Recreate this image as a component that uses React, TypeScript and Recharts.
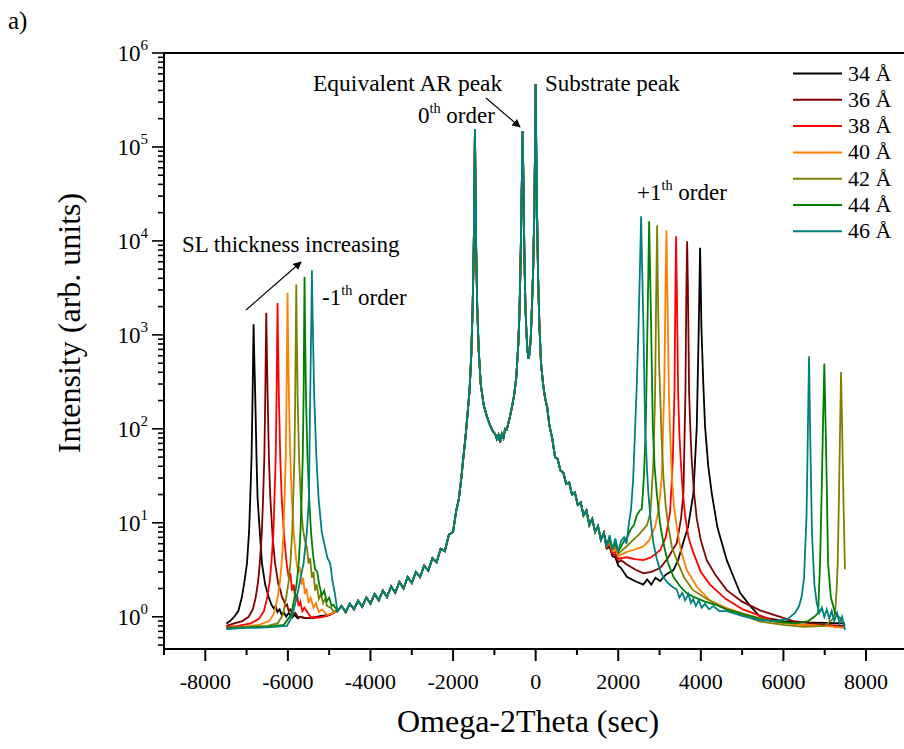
import { LineChart, Line, XAxis, YAxis } from 'recharts';

type Pt = [number, number];

const FONT = 'Liberation Serif, Tinos, DejaVu Serif, serif';

// x ticks (sec) and y decades
const xMajorTicks = [-8000, -6000, -4000, -2000, 0, 2000, 4000, 6000, 8000];
const xMinorTicks = [-9000, -7000, -5000, -3000, -1000, 1000, 3000, 5000, 7000];
const yDecades = [1, 10, 100, 1000, 10000, 100000, 1000000];
const yMinorSteps = [2, 3, 4, 5, 6, 7, 8, 9];

const seriesNames = ['34 Å', '36 Å', '38 Å', '40 Å', '42 Å', '44 Å', '46 Å'];
const seriesColors = ['#000000', '#800000', '#ff0000', '#ff8000', '#808000', '#008000', '#008080'];

// shared part: the 0th order / AR peak / substrate region, same for every sample
const centre: Pt[] = [
  [-4800, 1.15], [-4700, 1.3], [-4600, 1.12], [-4500, 1.38], [-4400, 1.2], [-4300, 1.48], [-4200, 1.28],
  [-4100, 1.6], [-4000, 1.38], [-3900, 1.75], [-3800, 1.5], [-3700, 1.9], [-3600, 1.62], [-3500, 2.1],
  [-3400, 1.8], [-3300, 2.35], [-3200, 2.0], [-3100, 2.65], [-3000, 2.3], [-2900, 3.0], [-2800, 2.65],
  [-2700, 3.5], [-2600, 3.1], [-2500, 4.2], [-2400, 3.8], [-2300, 5.3], [-2200, 5.0], [-2100, 7.5],
  [-2000, 8.0], [-1930, 13], [-1860, 18], [-1800, 30], [-1750, 50], [-1700, 80], [-1640, 160],
  [-1600, 260], [-1560, 600], [-1525, 2000], [-1500, 8000], [-1485, 30000], [-1470, 155000],
  [-1455, 30000], [-1440, 8000], [-1415, 2000], [-1380, 700], [-1330, 300], [-1260, 180], [-1180, 135],
  [-1100, 108], [-1040, 95], [-980, 88], [-940, 78], [-900, 86], [-860, 72], [-820, 88], [-780, 80],
  [-740, 100], [-700, 98], [-640, 125], [-580, 165], [-520, 230], [-470, 350], [-420, 800], [-390, 1800],
  [-360, 8000], [-335, 40000], [-315, 148000], [-295, 40000], [-275, 8000], [-250, 2200], [-225, 1100],
  [-200, 700], [-175, 560], [-150, 620], [-120, 900], [-90, 2000], [-60, 5000], [-35, 18000],
  [-15, 90000], [0, 465000], [15, 90000], [35, 18000], [60, 4000], [90, 1300], [130, 500], [180, 300],
  [230, 210], [280, 170], [330, 110], [400, 80], [470, 50], [530, 48], [600, 36], [670, 34], [740, 26],
  [810, 27], [880, 20], [950, 21], [1020, 15.5], [1090, 16.5], [1160, 12], [1230, 13.5], [1300, 9.5],
  [1370, 11], [1440, 8], [1510, 9.2], [1580, 6.6], [1650, 7.8],
];

// -1th order side
const left34: Pt[] = [
  [-7490, 0.85], [-7400, 0.9], [-7300, 1.0], [-7200, 1.15], [-7112, 1.63], [-7050, 2.4], [-6991, 3.7],
  [-6940, 8], [-6911, 18.5], [-6880, 50], [-6855, 219], [-6840, 700], [-6830, 1300], [-6818, 700],
  [-6790, 219], [-6760, 50], [-6734, 18.5], [-6680, 8], [-6628, 3.7], [-6550, 2.2], [-6468, 1.63],
  [-6400, 1.35], [-6340, 1.22], [-6300, 1.3], [-6250, 1.12], [-6200, 1.2], [-6150, 1.05], [-6100, 1.12],
  [-6040, 1.0], [-5980, 1.1], [-5900, 0.98], [-5840, 1.05], [-5760, 0.96], [-5700, 1.0], [-5600, 0.97],
  [-5400, 0.98], [-5200, 1.02], [-5000, 1.05], [-4900, 1.1],
];
const left36: Pt[] = [
  [-7490, 0.8], [-7300, 0.85], [-7100, 0.9], [-6950, 1.0], [-6850, 1.2], [-6780, 1.6], [-6720, 2.4],
  [-6680, 3.7], [-6630, 8], [-6600, 18.5], [-6570, 50], [-6548, 219], [-6533, 800], [-6523, 1715],
  [-6512, 800], [-6490, 219], [-6460, 50], [-6425, 18.5], [-6370, 7], [-6310, 3.7], [-6230, 2.2],
  [-6180, 1.9], [-6140, 1.6], [-6100, 1.5], [-6060, 1.3], [-6020, 1.35], [-5980, 1.15], [-5940, 1.2],
  [-5880, 1.05], [-5820, 1.1], [-5760, 1.0], [-5600, 0.98], [-5400, 0.97], [-5200, 1.0], [-5000, 1.04],
  [-4900, 1.1],
];
const left38: Pt[] = [
  [-7490, 0.78], [-7200, 0.8], [-6900, 0.85], [-6700, 0.95], [-6580, 1.15], [-6500, 1.6], [-6440, 2.4],
  [-6400, 3.7], [-6350, 8], [-6325, 18.5], [-6295, 50], [-6274, 219], [-6260, 900], [-6250, 2190],
  [-6239, 900], [-6218, 219], [-6185, 50], [-6150, 18.5], [-6090, 7], [-6030, 3.7], [-5980, 2.6],
  [-5940, 2.9], [-5900, 1.9], [-5860, 2.2], [-5820, 1.55], [-5780, 1.75], [-5740, 1.3], [-5700, 1.45],
  [-5650, 1.15], [-5600, 1.25], [-5450, 1.0], [-5250, 0.98], [-5050, 1.02], [-4900, 1.1],
];
const left40: Pt[] = [
  [-7490, 0.76], [-7100, 0.78], [-6700, 0.82], [-6450, 0.9], [-6330, 1.1], [-6250, 1.6], [-6190, 2.4],
  [-6150, 3.7], [-6105, 8], [-6080, 18.5], [-6052, 50], [-6032, 219], [-6018, 1000], [-6008, 2800],
  [-5997, 1000], [-5975, 219], [-5942, 50], [-5905, 18.5], [-5850, 7], [-5790, 3.7], [-5750, 3.0],
  [-5710, 3.4], [-5670, 2.2], [-5630, 2.6], [-5590, 1.75], [-5550, 2.0], [-5500, 1.4], [-5450, 1.6],
  [-5380, 1.25], [-5320, 1.4], [-5250, 1.12], [-5180, 1.2], [-5050, 1.05], [-4900, 1.1],
];
const left42: Pt[] = [
  [-7490, 0.76], [-7000, 0.78], [-6500, 0.8], [-6250, 0.85], [-6120, 1.05], [-6040, 1.6], [-5980, 2.4],
  [-5940, 3.7], [-5895, 8], [-5870, 18.5], [-5842, 50], [-5822, 219], [-5807, 1200], [-5797, 3435],
  [-5786, 1200], [-5764, 219], [-5730, 50], [-5690, 18.5], [-5640, 9], [-5590, 6.5], [-5540, 5.5],
  [-5500, 3.7], [-5460, 4.2], [-5420, 2.6], [-5380, 3.0], [-5340, 1.9], [-5300, 2.2], [-5250, 1.55],
  [-5200, 1.75], [-5150, 1.4], [-5100, 1.55], [-5050, 1.3], [-4960, 1.25], [-4900, 1.15],
];
const left44: Pt[] = [
  [-7490, 0.75], [-7000, 0.77], [-6500, 0.78], [-6100, 0.82], [-5920, 1.05], [-5840, 1.6], [-5780, 2.4],
  [-5740, 3.7], [-5695, 8], [-5668, 18.5], [-5640, 50], [-5620, 219], [-5606, 1400], [-5597, 4140],
  [-5586, 1400], [-5562, 219], [-5525, 50], [-5485, 18.5], [-5440, 8], [-5390, 4.5], [-5340, 3.2],
  [-5290, 3.0], [-5240, 2.2], [-5180, 1.7], [-5120, 1.9], [-5060, 1.45], [-5000, 1.6], [-4940, 1.3],
  [-4900, 1.35],
];
const left46: Pt[] = [
  [-7490, 0.74], [-7000, 0.76], [-6500, 0.77], [-6023, 0.8], [-5900, 1.0], [-5781, 1.63], [-5700, 2.5],
  [-5620, 3.7], [-5540, 8], [-5490, 18.5], [-5460, 219], [-5432, 1500], [-5418, 4875], [-5400, 1500],
  [-5362, 219], [-5310, 50], [-5258, 18.5], [-5180, 8], [-5100, 5.5], [-5040, 4.2], [-4975, 3.7],
  [-4920, 2.4], [-4860, 1.75],
];

// +1th (and +2th) order side
const right34: Pt[] = [
  [1720, 5.3], [1790, 5.6], [1860, 4.4], [1930, 4.3], [2000, 3.5],
  [2070, 3.3], [2207, 2.66], [2400, 2.4], [2605, 2.2], [2700, 2.5], [2800, 2.2], [2900, 2.6], [3014, 2.4],
  [3150, 2.8], [3336, 3.14], [3450, 4.0], [3571, 6.1], [3692, 9.1], [3820, 20.6], [3902, 105],
  [3950, 1216], [3970, 4000], [3982, 8440], [3995, 4000], [4014, 1216], [4060, 300], [4103, 105],
  [4180, 40], [4265, 20.6], [4400, 9], [4628, 4.0], [4800, 2.6], [4950, 1.8], [5200, 1.3], [5434, 1.0],
  [6000, 0.9], [6500, 0.87], [7000, 0.86], [7490, 0.85],
];
const right36: Pt[] = [
  [1720, 5.4], [1790, 5.8], [1860, 4.6], [1930, 4.6], [2000, 3.8],
  [2070, 4.0], [2207, 3.6], [2400, 3.2], [2610, 2.9], [2800, 3.0], [3014, 3.3], [3200, 4.2], [3418, 6.1],
  [3520, 11], [3579, 20.6], [3627, 240], [3650, 3000], [3668, 9930], [3688, 3000], [3716, 240],
  [3750, 90], [3780, 46], [3840, 20], [3902, 11], [4000, 6.5], [4143, 4.0], [4350, 2.8], [4628, 1.92],
  [5000, 1.45], [5434, 1.17], [6240, 0.9], [7000, 0.82], [7490, 0.8],
];
const right38: Pt[] = [
  [1720, 5.5], [1790, 6.0], [1860, 4.8], [1930, 4.9], [2000, 4.1],
  [2070, 4.2], [2207, 4.3], [2400, 4.1], [2610, 4.0], [2800, 4.3], [3014, 5.1], [3150, 7.0], [3256, 13],
  [3321, 46], [3361, 240], [3385, 3000], [3401, 11200], [3420, 3000], [3450, 240], [3480, 90],
  [3514, 46], [3560, 22], [3619, 12], [3700, 7], [3812, 4.9], [4000, 3.0], [4224, 2.2], [4600, 1.55],
  [5031, 1.19], [5838, 0.89], [6500, 0.82], [7000, 0.8], [7490, 0.78],
];
const right40: Pt[] = [
  [1720, 5.6], [1790, 6.3], [1860, 5.0], [1930, 5.3], [2000, 4.4],
  [2070, 4.6], [2207, 4.9], [2400, 5.2], [2610, 5.6], [2750, 6.5], [2893, 9.1], [2980, 14], [3055, 31],
  [3112, 240], [3145, 3000], [3167, 13000], [3190, 3000], [3227, 240], [3260, 80], [3297, 31],
  [3350, 15], [3418, 9.1], [3520, 5], [3660, 3.14], [3900, 2.1], [4224, 1.49], [4600, 1.25],
  [5031, 1.08], [5838, 0.87], [6500, 0.82], [7000, 0.8], [7490, 0.76],
];
const right42: Pt[] = [
  [1720, 5.7], [1790, 6.6], [1860, 5.2], [1930, 5.7], [2000, 4.7],
  [2070, 5.0], [2200, 5.6], [2350, 6.5], [2500, 7.5], [2610, 8.5], [2700, 9.5], [2780, 13], [2830, 30],
  [2852, 46], [2893, 240], [2920, 3000], [2941, 14700], [2960, 3000], [2990, 500], [3014, 240],
  [3050, 80], [3094, 31], [3150, 15], [3215, 9.1], [3300, 5.5], [3418, 4.0], [3600, 2.6], [3812, 1.92],
  [4200, 1.5], [4628, 1.19], [5000, 1.05], [5434, 0.89], [6000, 0.82], [6500, 0.78], [7000, 0.8],
  [7200, 0.95], [7250, 1.08], [7290, 2.0], [7315, 3.7], [7350, 25], [7375, 120], [7395, 403],
  [7415, 150], [7436, 46], [7465, 10], [7490, 3.2],
];
const right44: Pt[] = [
  [1720, 5.8], [1790, 6.9], [1860, 5.4], [1930, 6.1], [2000, 5.0],
  [2070, 5.6], [2150, 6.5], [2230, 7.2], [2300, 8.5], [2380, 9.5], [2450, 12], [2520, 13.5], [2570, 14],
  [2620, 30], [2667, 105], [2707, 1216], [2730, 5000], [2748, 16200], [2770, 5000], [2797, 1216],
  [2837, 105], [2880, 40], [2934, 20.6], [3010, 10], [3094, 6.1], [3200, 3.8], [3336, 2.66],
  [3500, 2.1], [3650, 1.8], [3812, 1.64], [4100, 1.45], [4400, 1.32], [4628, 1.2], [5000, 1.08],
  [5434, 0.95], [5900, 0.88], [6300, 0.85], [6600, 0.9], [6750, 1.0], [6840, 1.1], [6887, 3.7],
  [6930, 25], [6960, 120], [6991, 497], [7020, 120], [7050, 25], [7081, 3.7], [7150, 1.6], [7250, 1.1],
  [7330, 1.0], [7400, 0.95], [7490, 0.8],
];
const right46: Pt[] = [
  [1720, 5.6], [1790, 7.4], [1860, 5.2], [1930, 6.8], [2000, 5.0],
  [2070, 6.4], [2140, 7.0], [2200, 6.0], [2260, 10], [2310, 14], [2360, 28], [2410, 105], [2450, 300],
  [2490, 1216], [2525, 5000], [2554, 18300], [2580, 5000], [2610, 1216], [2651, 105], [2700, 35],
  [2731, 20], [2790, 10], [2852, 6.1], [2930, 4.2], [3014, 3.1], [3100, 2.6], [3200, 2.3], [3300, 2.1],
  [3418, 1.95], [3480, 1.6], [3550, 1.8], [3620, 1.5], [3700, 1.75], [3760, 1.4], [3812, 1.55],
  [3880, 1.3], [3950, 1.5], [4020, 1.25], [4100, 1.38], [4200, 1.2], [4300, 1.3], [4450, 1.15],
  [4628, 1.15], [5000, 1.02], [5434, 0.92], [5800, 0.9], [6100, 0.95], [6282, 1.1], [6380, 1.3],
  [6443, 1.65], [6500, 2.6], [6560, 12], [6590, 80], [6620, 593], [6650, 80], [6690, 8], [6750, 2.2],
  [6807, 1.4], [6870, 1.1], [6930, 1.25], [6990, 1.0], [7050, 1.2], [7110, 0.95], [7170, 1.15],
  [7230, 0.9], [7300, 1.1], [7360, 0.85], [7420, 1.0], [7490, 0.72],
];

const lefts = [left34, left36, left38, left40, left42, left44, left46];
const rights = [right34, right36, right38, right40, right42, right44, right46];

const series = seriesNames.map((name, i) => ({
  name,
  color: seriesColors[i],
  data: [...lefts[i], ...centre, ...rights[i]].map(([x, y]) => ({ x, y })),
}));

const yTicks = [
  ...[5, 6, 7, 8, 9].map(m => m / 10),
  ...yDecades.flatMap(d => (d < 1000000 ? [d, ...yMinorSteps.map(m => m * d)] : [d])),
];
const xTicks = [...xMinorTicks, ...xMajorTicks].sort((a, b) => a - b);

const txt = { fontFamily: FONT, fill: '#000' };

const XTick = (props: any) => {
  const { x, y, payload } = props;
  const major = xMajorTicks.includes(payload.value);
  return (
    <g>
      <line x1={x} x2={x} y1={y} y2={y + (major ? 12 : 6)} stroke="#000" strokeWidth={2} />
      {major && (
        <text x={x} y={y + 40} textAnchor="middle" fontSize={22} style={txt}>
          {payload.value}
        </text>
      )}
    </g>
  );
};

const YTick = (props: any) => {
  const { x, y, payload } = props;
  const major = yDecades.includes(payload.value);
  return (
    <g>
      <line x1={x - (major ? 12 : 6)} x2={x} y1={y} y2={y} stroke="#000" strokeWidth={1.6} />
      {major && (
        <text x={x - 16} y={y + 8} textAnchor="end" fontSize={23} style={txt}>
          <tspan>10</tspan>
          <tspan fontSize={15} dy={-11}>{Math.round(Math.log10(payload.value))}</tspan>
        </text>
      )}
    </g>
  );
};

const Sup = ({ x, y, base, sup, rest, size = 23 }: any) => (
  <text x={x} y={y} fontSize={size} style={txt}>
    <tspan>{base}</tspan>
    <tspan fontSize={size * 0.62} dy={-10}>{sup}</tspan>
    <tspan dy={10}>{rest}</tspan>
  </text>
);

export default function App() {
  return (
    <div style={{ position: 'absolute', left: 0, top: 0, width: 904, height: 749, background: '#fff', fontFamily: FONT }}>
      <LineChart width={904} height={749} margin={{ top: 53, right: 0, bottom: 0, left: 0 }}>
        <XAxis
          dataKey="x"
          type="number"
          domain={[-9000, 8920]}
          allowDataOverflow
          ticks={xTicks}
          interval={0}
          tick={<XTick />}
          tickLine={false}
          tickSize={0}
          tickMargin={0}
          height={100}
          axisLine={{ stroke: '#000', strokeWidth: 2 }}
        />
        <YAxis
          dataKey="y"
          type="number"
          scale="log"
          domain={[0.454, 1000000]}
          allowDataOverflow
          ticks={yTicks}
          interval={0}
          tick={<YTick />}
          tickLine={false}
          tickSize={0}
          tickMargin={0}
          width={164}
          axisLine={{ stroke: '#000', strokeWidth: 2 }}
        />
        {series.map(s => (
          <Line
            key={s.name}
            data={s.data}
            dataKey="y"
            name={s.name}
            type="linear"
            stroke={s.color}
            strokeWidth={1.8}
            dot={false}
            isAnimationActive={false}
          />
        ))}
      </LineChart>

      <svg width={904} height={749} style={{ position: 'absolute', left: 0, top: 0, pointerEvents: 'none' }}>
        <defs>
          <marker id="ah" viewBox="0 0 10 10" refX="9" refY="5" markerWidth="7" markerHeight="7" orient="auto">
            <path d="M0,0 L10,5 L0,10 z" fill="#000" />
          </marker>
        </defs>
        <line x1={164} x2={904} y1={53} y2={53} stroke="#000" strokeWidth={2} />
        <text x={8} y={29} fontSize={25} style={txt}>a)</text>

        <text transform="translate(80,323) rotate(-90)" textAnchor="middle" fontSize={32} style={txt}>
          Intensity (arb. units)
        </text>
        <text x={528} y={732} textAnchor="middle" fontSize={32} style={txt}>
          Omega-2Theta (sec)
        </text>

        <text x={313} y={91} fontSize={23.5} style={txt}>Equivalent AR peak</text>
        <Sup x={418} y={123} base="0" sup="th" rest=" order" />
        <text x={545} y={91} fontSize={23} style={txt}>Substrate peak</text>
        <Sup x={637} y={200} base="+1" sup="th" rest=" order" />
        <Sup x={322} y={305} base="-1" sup="th" rest=" order" />
        <text x={182} y={252} fontSize={23} style={txt}>SL thickness increasing</text>

        <line x1={486} y1={98} x2={520} y2={127} stroke="#000" strokeWidth={1.2} markerEnd="url(#ah)" />
        <line x1={246} y1={310} x2={301} y2={262} stroke="#000" strokeWidth={1.2} markerEnd="url(#ah)" />

        {series.map((s, i) => (
          <g key={s.name}>
            <line x1={793} x2={842} y1={73.5 + i * 26.3} y2={73.5 + i * 26.3} stroke={s.color} strokeWidth={2} />
            <text x={848} y={80.5 + i * 26.3} fontSize={22} style={txt}>{s.name}</text>
          </g>
        ))}
      </svg>
    </div>
  );
}
